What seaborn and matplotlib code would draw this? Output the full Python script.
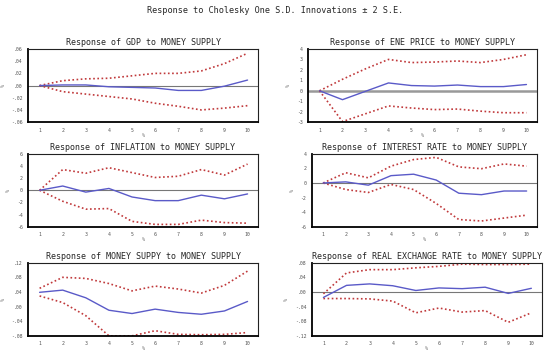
import numpy as np
import pandas as pd
import matplotlib
matplotlib.use("Agg")
import matplotlib.pyplot as plt
import seaborn as sns
from matplotlib.ticker import MultipleLocator

steps = list(range(1, 11))

titles = [
    "Response of GDP to MONEY SUPPLY",
    "Response of ENE PRICE to MONEY SUPPLY",
    "Response of INFLATION to MONEY SUPPLY",
    "Response of INTEREST RATE to MONEY SUPPLY",
    "Response of MONEY SUPPY to MONEY SUPPLY",
    "Response of REAL EXCHANGE RATE to MONEY SUPPLY",
]

# impulse response (solid) and +/- 2 S.E. bands (dotted)
gdp_mid = [0, 0.001, 0.001, -0.002, -0.003, -0.004, -0.008, -0.008, -0.001, 0.009]
gdp_up = [0, 0.008, 0.011, 0.012, 0.016, 0.020, 0.020, 0.024, 0.036, 0.053]
gdp_lo = [0, -0.010, -0.014, -0.018, -0.022, -0.029, -0.034, -0.040, -0.037, -0.033]

ene_mid = [0, -0.85, -0.05, 0.75, 0.5, 0.45, 0.55, 0.4, 0.4, 0.6]
ene_up = [0, 1.1, 2.1, 3.0, 2.7, 2.75, 2.85, 2.7, 3.0, 3.45]
ene_lo = [0, -2.95, -2.2, -1.45, -1.65, -1.8, -1.75, -1.95, -2.1, -2.1]

inf_mid = [0, 0.7, -0.3, 0.3, -1.1, -1.7, -1.7, -0.8, -1.4, -0.6]
inf_up = [0, 3.4, 2.8, 3.7, 2.9, 2.1, 2.3, 3.4, 2.5, 4.3]
inf_lo = [0, -1.8, -3.1, -3.0, -5.1, -5.6, -5.6, -4.9, -5.3, -5.4]

ir_mid = [0, 0.15, -0.3, 1.0, 1.2, 0.4, -1.4, -1.6, -1.1, -1.1]
ir_up = [0, 1.4, 0.7, 2.3, 3.2, 3.5, 2.2, 1.95, 2.6, 2.3]
ir_lo = [0, -0.9, -1.3, -0.2, -0.9, -2.8, -5.0, -5.2, -4.8, -4.4]

ms_mid = [0.039, 0.045, 0.024, -0.010, -0.019, -0.007, -0.016, -0.021, -0.012, 0.014]
ms_up = [0.050, 0.080, 0.077, 0.063, 0.043, 0.056, 0.048, 0.037, 0.058, 0.097]
ms_lo = [0.029, 0.011, -0.025, -0.080, -0.080, -0.066, -0.076, -0.077, -0.076, -0.071]

rer_mid = [-0.015, 0.018, 0.022, 0.017, 0.004, 0.011, 0.009, 0.013, -0.004, 0.010]
rer_up = [-0.005, 0.052, 0.061, 0.061, 0.066, 0.070, 0.076, 0.075, 0.075, 0.076]
rer_lo = [-0.018, -0.018, -0.019, -0.025, -0.057, -0.044, -0.055, -0.051, -0.083, -0.057]

series = [
    (gdp_mid, gdp_up, gdp_lo),
    (ene_mid, ene_up, ene_lo),
    (inf_mid, inf_up, inf_lo),
    (ir_mid, ir_up, ir_lo),
    (ms_mid, ms_up, ms_lo),
    (rer_mid, rer_up, rer_lo),
]

ylims = [(-0.06, 0.06), (-3, 4), (-6, 6), (-6, 4), (-0.08, 0.12), (-0.12, 0.08)]
ysteps = [0.02, 1, 2, 2, 0.04, 0.04]
decimal = [True, False, False, False, True, True]

sns.set_style("white")
plt.rcParams["font.family"] = ["DejaVu Sans Mono", "DejaVu Sans"]

fig = plt.figure(figsize=(5.5, 3.55), dpi=100)
fig.suptitle("Response to Cholesky One S.D. Innovations \u00b1 2 S.E.",
             fontsize=6.1, y=0.982)

rects = [
    (0.051, 0.656, 0.418, 0.206),
    (0.560, 0.656, 0.416, 0.206),
    (0.051, 0.361, 0.418, 0.206),
    (0.567, 0.361, 0.409, 0.206),
    (0.051, 0.054, 0.418, 0.206),
    (0.567, 0.054, 0.418, 0.206),
]

blue = "#5a5ac8"
red = "#c0393b"

for i, (rect, title, (mid, up, lo)) in enumerate(zip(rects, titles, series)):
    ax = fig.add_axes(rect)
    if i != 4:
        if i == 1:
            ax.axhline(0, color="#999999", lw=1.8, zorder=1)
        else:
            ax.axhline(0, color="#777777", lw=0.8, zorder=1)
    sns.lineplot(x=steps, y=up, ax=ax, color=red, lw=1.2, linestyle=(0, (1, 1.5)))
    sns.lineplot(x=steps, y=lo, ax=ax, color=red, lw=1.2, linestyle=(0, (1, 1.5)))
    sns.lineplot(x=steps, y=mid, ax=ax, color=blue, lw=1.0)
    ax.set_xlim(0.5, 10.45)
    ax.set_ylim(*ylims[i])
    ax.set_title(title, fontsize=6, pad=3)
    ax.xaxis.set_major_locator(MultipleLocator(1))
    ax.xaxis.set_minor_locator(MultipleLocator(0.5))
    ticks = np.arange(ylims[i][0], ylims[i][1] + ysteps[i] / 2, ysteps[i])
    ax.set_yticks(ticks)
    if decimal[i]:
        labels = [("-" if t < -1e-9 else "") + ("%.2f" % abs(t))[1:] for t in ticks]
    else:
        labels = ["%d" % round(t) for t in ticks]
    ax.set_yticklabels(labels)
    ax.tick_params(axis="both", which="both", direction="in", labelsize=3.5,
                   labelcolor="#555555", length=2.5, width=0.8, pad=4)
    ax.tick_params(axis="x", which="minor", length=1.5)
    ax.set_xlabel("%", fontsize=3.5, color="#555555", labelpad=0)
    ax.set_ylabel("%", fontsize=3.5, color="#555555", labelpad=4)
    for s in ["left", "bottom"]:
        ax.spines[s].set_linewidth(1.3)
        ax.spines[s].set_color("black")
    for s in ["top", "right"]:
        ax.spines[s].set_linewidth(0.8)
        ax.spines[s].set_color("#222222")

fig.savefig("out.png", dpi=100)
